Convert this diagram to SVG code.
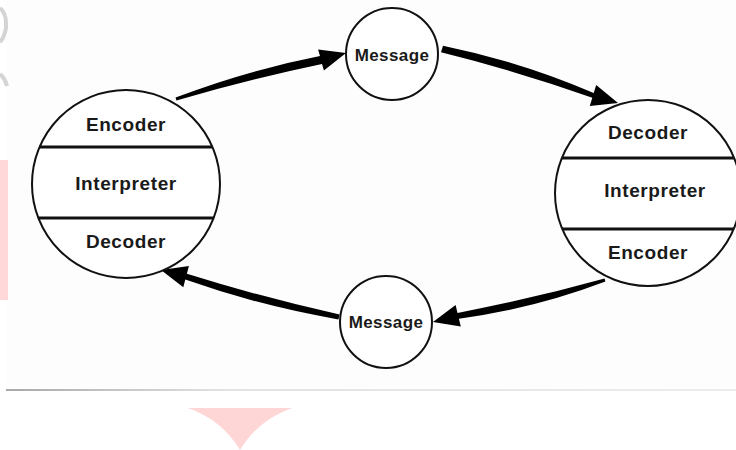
<svg xmlns="http://www.w3.org/2000/svg" width="736" height="450" viewBox="0 0 736 450">
<defs>
<style>
.node{fill:#ffffff;stroke:#111;stroke-width:2}
.div{stroke:#111;stroke-width:3}
.lbl{font-family:"Liberation Sans",Arial,sans-serif;font-weight:bold;font-size:19px;letter-spacing:0.6px;fill:#1a1a1a;text-anchor:middle}
.msg{font-size:17px;letter-spacing:0.4px}
.arrow{fill:#000}
</style>
<linearGradient id="rule" x1="0" x2="1" y1="0" y2="0">
<stop offset="0" stop-color="#a8a8a8"/>
<stop offset="0.3" stop-color="#e2e2e2"/>
<stop offset="1" stop-color="#ececec"/>
</linearGradient>
</defs>
<rect width="736" height="450" fill="#ffffff"/>
<rect x="6" y="0" width="730" height="388" fill="#fdfdfd"/>
<rect x="6" y="389" width="730" height="2" fill="url(#rule)"/>
<!-- watermark fragments -->
<path d="M0,8 Q7,14 6,28 Q4,38 0,42" fill="none" stroke="#d4d4d4" stroke-width="4"/>
<path d="M0,74 Q5,78 7,86" fill="none" stroke="#d4d4d4" stroke-width="4"/>
<rect x="0" y="160" width="8" height="140" fill="#ffd9d9"/>
<path d="M188,408 L292,408 Q258,420 240,450 Q222,420 188,408 Z" fill="#ffd6d6"/>

<g id="connectors">
<path class="arrow" d="M175.6,97.6 Q245.8,70.7 320,56.1 L318.1,49.4 L346,53 L323.9,70.6 L322,63.9 Q248.2,79.3 176.4,100.4 Z"/>
<path class="arrow" d="M443.0,45.7 Q520.8,61.7 593.7,93.0 L596.2,84.9 L618,103 L589.8,105.9 L592.3,97.8 Q517.8,71.3 441.0,52.3 Z"/>
<path class="arrow" d="M604.6,278.5 Q531.8,298.8 457.5,312.9 L455.6,305.1 L433,322 L460.8,326.5 L458.9,318.7 Q534.2,308.6 605.4,281.5 Z"/>
<path class="arrow" d="M339.6,314.6 Q262.4,297.3 186.9,273.7 L188.9,266.0 L161,270 L183.3,287.2 L185.3,279.5 Q260.2,306.0 338.4,319.4 Z"/>
</g>

<g id="left-party">
<circle class="node" cx="126" cy="184" r="94"/>
<line class="div" x1="39" y1="147" x2="213" y2="147"/>
<line class="div" x1="38" y1="218" x2="214" y2="218"/>
<text class="lbl" x="126" y="131">Encoder</text>
<text class="lbl" x="126" y="190">Interpreter</text>
<text class="lbl" x="126" y="248">Decoder</text>
</g>

<g id="right-party">
<circle class="node" cx="648" cy="193" r="93"/>
<line class="div" x1="562" y1="158" x2="734" y2="158"/>
<line class="div" x1="562" y1="229" x2="734" y2="229"/>
<text class="lbl" x="648" y="139">Decoder</text>
<text class="lbl" x="655" y="197">Interpreter</text>
<text class="lbl" x="648" y="259">Encoder</text>
</g>

<g id="message-top">
<circle class="node" cx="392" cy="54" r="46"/>
<text class="lbl msg" x="392" y="61">Message</text>
</g>

<g id="message-bottom">
<circle class="node" cx="386" cy="322" r="46"/>
<text class="lbl msg" x="386" y="328">Message</text>
</g>
</svg>
